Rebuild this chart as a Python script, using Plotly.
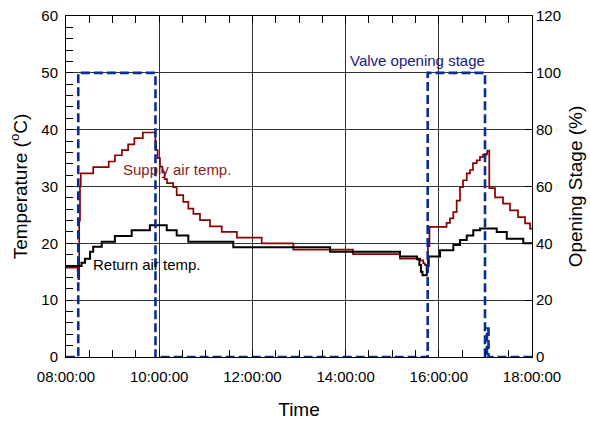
import plotly.graph_objects as go
import pandas as pd

# minutes after 08:00 and values
supply_min = [0, 15, 16, 17, 18, 19, 35, 55, 63, 72, 80, 88, 99, 115, 116, 118, 121, 124, 127, 130,
              138, 142.5, 151, 157.5, 164, 172.5, 185.4, 200.5, 220, 252, 292.7, 369.5, 430, 456, 460, 462,
              466, 468, 490, 494.4, 498.7, 503, 507.3, 511.2, 516, 520.2, 524, 528.8, 533, 537, 541.7, 542.4,
              545, 552.4, 562.7, 571.7, 582, 591, 597.5, 600]
supply_val = [15.7, 15.2, 13.7, 24.0, 30.0, 32.3, 33.4, 34.4, 35.5, 36.4, 37.4, 38.5, 39.5, 38.0, 36.4, 35.0, 33.5, 32.5, 31.3, 30.6,
              29.9, 28.5, 27.3, 26.1, 25.2, 24.1, 23.0, 22.0, 21.0, 20.0, 18.9, 18.1, 17.3, 17.0, 16.5, 16.2,
              19.5, 22.9, 23.6, 24.4, 25.5, 27.5, 29.9, 31.1, 32.3, 32.9, 34.1, 34.6, 35.2, 35.6, 35.8, 36.3,
              29.7, 28.1, 27.0, 25.8, 24.6, 23.5, 22.6, 22.6]

return_min = [0, 20, 24.5, 31, 35, 46, 63, 84.6, 108, 129.7, 142.5, 157.5, 215.4, 340, 430, 452, 455, 457, 459,
              464.5, 467, 481.6, 498.7, 507.3, 516, 524.4, 533, 554.6, 567.5, 588.8, 600]
return_val = [16.0, 16.6, 17.3, 18.5, 19.4, 20.3, 21.3, 22.3, 23.2, 22.3, 21.4, 20.3, 19.3, 18.5, 17.7, 17.2, 16.2, 15.0, 14.4,
              16.0, 17.7, 18.8, 19.7, 20.6, 21.4, 22.3, 22.6, 22.0, 20.8, 20.0, 20.0]

valve_min = [0, 15.8, 115.2, 465.7, 539.5, 542, 544, 600]
valve_val = [0, 100, 0, 100, 0, 10, 0, 0]

x_tick_labels = ["08:00:00", "10:00:00", "12:00:00", "14:00:00", "16:00:00", "18:00:00"]

base = pd.Timestamp("2020-01-01 08:00:00")
def to_t(mins):
    return [base + pd.Timedelta(minutes=m) for m in mins]

font_family = "Arial, Liberation Sans, sans-serif"
fig = go.Figure()
fig.add_trace(go.Scatter(x=to_t(supply_min), y=supply_val, mode="lines", line_shape="hv",
                         line=dict(color="#8b0000", width=1.7), showlegend=False))
fig.add_trace(go.Scatter(x=to_t(return_min), y=return_val, mode="lines", line_shape="hv",
                         line=dict(color="black", width=2), showlegend=False))
fig.add_trace(go.Scatter(x=to_t(valve_min), y=valve_val, mode="lines", line_shape="hv", yaxis="y2",
                         line=dict(color="#0a2d91", width=2.6, dash="9px,4px"), showlegend=False))

tickvals = [pd.Timestamp("2020-01-01 " + s) for s in x_tick_labels]
fig.update_layout(
    width=590, height=421, margin=dict(l=66, r=58, t=16, b=64, autoexpand=False),
    plot_bgcolor="white", paper_bgcolor="white",
    font=dict(family=font_family, size=15, color="black"),
    xaxis=dict(range=[tickvals[0], tickvals[-1]], tickvals=tickvals, ticktext=x_tick_labels,
               showgrid=True, gridcolor="#333333", gridwidth=1, automargin=False,
               showline=True, linecolor="black", linewidth=1, mirror="allticks",
               ticks="inside", ticklen=7, tickcolor="black", ticklabelstandoff=6,
               ticklabeloverflow="allow",
               minor=dict(dtick=30 * 60 * 1000, ticks="inside", ticklen=7, tickcolor="black", showgrid=False),
               title=dict(text="Time", font=dict(size=19), standoff=18), zeroline=False),
    yaxis=dict(range=[0, 60], dtick=10, showgrid=True, gridcolor="#333333", gridwidth=1, automargin=False,
               showline=True, linecolor="black", linewidth=1, mirror=True,
               ticks="inside", ticklen=7, tickcolor="black", ticklabelstandoff=4,
               ticklabeloverflow="allow",
               minor=dict(dtick=2, ticks="inside", ticklen=7, tickcolor="black", showgrid=False),
               title=dict(text="Temperature (<sup>o</sup>C)", font=dict(size=19), standoff=8), zeroline=False),
    yaxis2=dict(range=[0, 120], dtick=20, overlaying="y", side="right", showgrid=False, automargin=False,
                ticks="inside", ticklen=7, tickcolor="black", showline=False, zeroline=False,
                ticklabelstandoff=3, ticklabeloverflow="allow",
                title=dict(text="Opening Stage (%)", font=dict(size=19), standoff=8)),
    annotations=[
        dict(x=pd.Timestamp("2020-01-01 10:23:00"), y=33.0, text="Supply air temp.", showarrow=False,
             font=dict(color="#8b1a1a", size=15), xanchor="center", yanchor="middle"),
        dict(x=pd.Timestamp("2020-01-01 09:44:00"), y=16.3, text="Return air temp.", showarrow=False,
             font=dict(color="black", size=15), xanchor="center", yanchor="middle"),
        dict(x=pd.Timestamp("2020-01-01 15:32:00"), y=52.2, text="Valve opening stage", showarrow=False,
             font=dict(color="#1a1a80", size=15), xanchor="center", yanchor="middle"),
    ],
)
fig.write_html("out.html", config={"displayModeBar": False},
               post_script="document.body.style.margin='0';document.body.style.overflow='hidden';")
